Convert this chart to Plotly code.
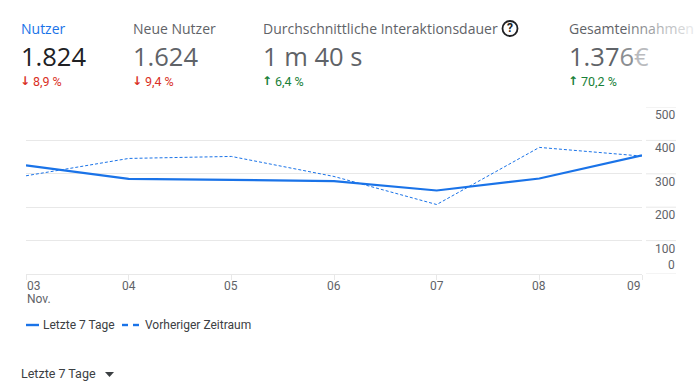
import plotly.graph_objects as go

days = ["03", "04", "05", "06", "07", "08", "09"]
current = [325, 285, 282, 278, 250, 286, 355]
previous = [294, 346, 352, 292, 208, 379, 353]
y_ticks = [0, 100, 200, 300, 400, 500]
y_shift = {0: 9, 100: -8, 200: -8, 300: -8, 400: -8, 500: -8}
series_names = ["Letzte 7 Tage", "Vorheriger Zeitraum"]
kpi_titles = ["Nutzer", "Neue Nutzer", "Durchschnittliche Interaktionsdauer"]
kpi_values = ["1.824", "1.624", "1 m 40 s"]
kpi_changes = ["8,9 %", "9,4 %", "6,4 %"]
kpi_dirs = ["↓", "↓", "↑"]
fade_title = "Gesamteinnahmen"
fade_value = "1.376€"
fade_change = "70,2 %"

W, H = 698, 392
L, R, T, B = 26, 642, 107, 274
BLUE = "#1a73e8"
GREY = "#5f6368"
RED = "#d93025"
GREEN = "#188038"
GRID = "#e8e8e8"


def X(p):
    return (p - L) / (R - L)


def Y(p):
    return (B - p) / (B - T)


def fade(text, start, stop, x0, cw, base=(95, 99, 104)):
    out = []
    for i, ch in enumerate(text):
        c = x0 + cw * (i + 0.5)
        t = min(1, max(0, (c - start) / (stop - start)))
        col = [round(b + (255 - b) * t) for b in base]
        out.append(f'<span style="color:rgb({col[0]},{col[1]},{col[2]})">{ch}</span>')
    return "".join(out)


fig = go.Figure()
fig.add_trace(go.Scatter(x=days, y=previous, name=series_names[1], mode="lines",
                         line=dict(color=BLUE, width=1, dash="3px,2px"), hoverinfo="skip"))
fig.add_trace(go.Scatter(x=days, y=current, name=series_names[0], mode="lines",
                         line=dict(color=BLUE, width=2.2), hoverinfo="skip"))

anns = []
shapes = []


def text(px, py, s, size=12, color=GREY, family="Roboto", anchor="left", yanchor="middle"):
    anns.append(dict(x=X(px), y=Y(py), xref="paper", yref="paper", text=s, showarrow=False,
                     xanchor=anchor, yanchor=yanchor, xshift=0, yshift=0, borderpad=0, borderwidth=0,
                     align="left", font=dict(size=size, color=color, family=family)))


# KPI header
kx = [21, 133, 263]
for i in range(3):
    tc = BLUE if i == 0 else GREY
    vc = "#202124" if i == 0 else GREY
    text(kx[i], 28.5, kpi_titles[i], size=14, color=tc, family="Open Sans")
    text(kx[i], 56.5, kpi_values[i], size=25.5, color=vc, family="Open Sans")
    col = RED if kpi_dirs[i] == "↓" else GREEN
    text(kx[i] - 1, 81, f"<b>{kpi_dirs[i]}</b>", size=12, color=col, family="DejaVu Sans")
    text(kx[i] + 12, 81.5, kpi_changes[i], size=12.5, color=col)

text(569, 28.5, fade(fade_title, 625, 700, 569, 8.2), size=14, family="Open Sans")
text(569, 56.5, fade(fade_value, 615, 660, 569, 13), size=25.5, family="Open Sans")
text(568, 81, "<b>↑</b>", size=12, color=GREEN, family="DejaVu Sans")
text(581, 81.5, fade_change, size=12.5, color=GREEN)

# help icon
shapes.append(dict(type="circle", xref="paper", yref="paper", x0=X(502.5), x1=X(517.5), y0=Y(36), y1=Y(21),
                   line=dict(color="#202124", width=1.8), fillcolor="rgba(0,0,0,0)"))
text(510, 28.5, "<b>?</b>", size=12, color="#202124", anchor="center")

# right-hand tick stubs and labels
for v in y_ticks:
    shapes.append(dict(type="line", xref="paper", yref="y", x0=X(646), x1=X(676), y0=v, y1=v,
                       line=dict(color=GRID, width=1)))
    anns.append(dict(x=X(677), y=v, xref="paper", yref="y", text=str(v), showarrow=False,
                     xanchor="right", yanchor="middle", yshift=y_shift[v],
                     font=dict(size=12, color=GREY, family="Roboto")))

# x labels
for i, d in enumerate(days):
    anns.append(dict(x=i, y=0, xref="x", yref="y", text=d, showarrow=False,
                     xanchor="left" if i == 0 else ("right" if i == 6 else "center"),
                     yanchor="top", yshift=-4,
                     font=dict(size=12, color=GREY, family="Roboto"), borderpad=0))
anns.append(dict(x=0, y=0, xref="x", yref="y", text="Nov.", showarrow=False,
                 xanchor="left", yanchor="top", yshift=-17,
                 font=dict(size=12, color=GREY, family="Roboto"), borderpad=0))

# legend
shapes.append(dict(type="line", xref="paper", yref="paper", x0=X(26), x1=X(39), y0=Y(325), y1=Y(325),
                   line=dict(color=BLUE, width=2.4)))
text(43, 325, series_names[0], size=12, color="#3c4043")
for a, b in [(122, 128), (133, 139)]:
    shapes.append(dict(type="line", xref="paper", yref="paper", x0=X(a), x1=X(b), y0=Y(325), y1=Y(325),
                       line=dict(color=BLUE, width=2.4)))
text(145, 325, series_names[1], size=12, color="#3c4043")

# range selector
text(21, 373.5, series_names[0], size=12.5, color="#3c4043")
shapes.append(dict(type="path", xref="paper", yref="paper",
                   path=f"M {X(105)} {Y(372)} L {X(114)} {Y(372)} L {X(109.5)} {Y(377)} Z",
                   fillcolor="#3c4043", line=dict(width=0)))

fig.update_layout(
    width=W, height=H, autosize=False,
    margin=dict(l=L, r=W - R, t=T, b=H - B, pad=0),
    paper_bgcolor="white", plot_bgcolor="white", showlegend=False,
    xaxis=dict(type="category", categoryorder="array", categoryarray=days, range=[0, 6],
               showgrid=False, showline=True, linecolor=GRID, linewidth=1, ticks="outside",
               ticklen=5, tickcolor=GRID, tickwidth=1, showticklabels=False, zeroline=False, fixedrange=True),
    yaxis=dict(range=[0, 500], tickvals=y_ticks, showticklabels=False, showgrid=True, gridcolor=GRID,
               gridwidth=1, zeroline=False, showline=False, ticks="", fixedrange=True),
    annotations=anns, shapes=shapes,
)
fig.write_html("out.html", config=dict(displayModeBar=False),
               post_script="document.body.style.margin='0';document.body.style.overflow='hidden';")
